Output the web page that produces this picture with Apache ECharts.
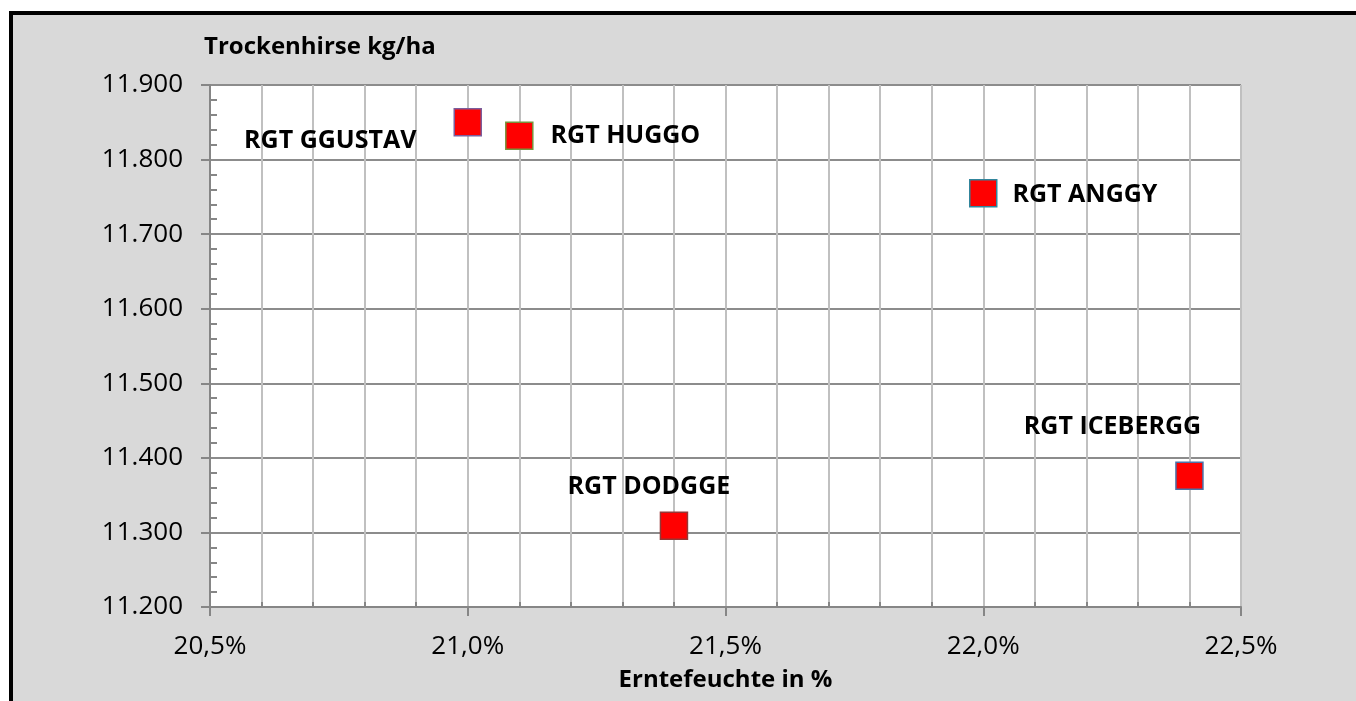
<!DOCTYPE html>
<html>
<head>
<meta charset="utf-8">
<title>Trockenhirse</title>
<script src="https://cdn.jsdelivr.net/npm/echarts@6/dist/echarts.min.js"></script>
<style>
html,body{margin:0;padding:0;background:#d9d9d9;overflow:hidden;}
#chart{width:1356px;height:701px;}
</style>
</head>
<body>
<div id="chart"></div>
<script>
'use strict';

// Sorten, Erntefeuchte (%) und Ertrag (kg/ha)
var varieties=['RGT GGUSTAV','RGT HUGGO','RGT ANGGY','RGT ICEBERGG','RGT DODGGE'];
var moisture=[21.0,21.1,22.0,22.4,21.4];
var yields=[11850,11832,11755,11376,11309];

// Randfarben der Marker und Lage der Beschriftung je Sorte
var borderColors=['#7b5e9c','#77933c','#31859c','#4a72a8','#953735'];
var labelLayout=[
    {position:'left',distance:37,offset:[0,19]},
    {position:'right',distance:17,offset:[0,0]},
    {position:'right',distance:15,offset:[0,2]},
    {position:'top',distance:22,offset:[-77,0]},
    {position:'top',distance:12,offset:[-25,0]}
];

var FONT='"Open Sans", sans-serif';

var series=varieties.map(function(name,i){
    return {
        name:name,
        type:'scatter',
        symbol:'rect',
        symbolSize:27,
        data:[[moisture[i],yields[i]]],
        itemStyle:{color:'#ff0000',opacity:1,borderColor:borderColors[i],borderWidth:1.5},
        label:{
            show:true,
            formatter:name,
            position:labelLayout[i].position,
            distance:labelLayout[i].distance,
            offset:labelLayout[i].offset,
            color:'#000',
            fontFamily:FONT,
            fontWeight:'bold',
            fontSize:25
        },
        emphasis:{disabled:true}
    };
});

var chart=echarts.init(document.getElementById('chart'));
chart.setOption({
    animation:false,
    backgroundColor:'#d9d9d9',
    graphic:[
        // weisser Rand oben/links, dann schwarze Rahmenlinien
        {type:'rect',z:-100,silent:true,shape:{x:0,y:0,width:1356,height:11},style:{fill:'#fff'}},
        {type:'rect',z:-100,silent:true,shape:{x:0,y:0,width:9,height:701},style:{fill:'#fff'}},
        {type:'rect',z:-99,silent:true,shape:{x:9,y:11,width:1347,height:4},style:{fill:'#000'}},
        {type:'rect',z:-99,silent:true,shape:{x:9,y:11,width:4,height:690},style:{fill:'#000'}}
    ],
    grid:{left:210,right:115,top:85,bottom:94,show:true,backgroundColor:'#fff',borderWidth:0},
    xAxis:{
        type:'value',
        min:20.5,max:22.5,interval:0.5,
        name:'Erntefeuchte in %',
        nameLocation:'middle',
        nameGap:73,
        nameTextStyle:{color:'#000',fontFamily:FONT,fontWeight:'bold',fontSize:24,verticalAlign:'middle'},
        axisLine:{lineStyle:{color:'#868686',width:2}},
        axisTick:{show:true,length:9,lineStyle:{color:'#868686',width:2}},
        minorTick:{show:true,splitNumber:5,length:-5,lineStyle:{color:'#868686',width:2}},
        axisLabel:{margin:27,color:'#000',fontFamily:FONT,fontSize:26,
            formatter:function(v){return v.toFixed(1).replace('.',',')+'%';}},
        splitLine:{show:true,lineStyle:{color:'#c0c0c0',width:2}},
        minorSplitLine:{show:true,lineStyle:{color:'#c0c0c0',width:2}}
    },
    yAxis:{
        type:'value',
        min:11200,max:11900,interval:100,
        name:'Trockenhirse kg/ha',
        nameLocation:'end',
        nameGap:38,
        nameTextStyle:{color:'#000',fontFamily:FONT,fontWeight:'bold',fontSize:24,align:'left',verticalAlign:'middle',padding:[0,0,0,-6]},
        axisLine:{show:true,lineStyle:{color:'#868686',width:2}},
        axisTick:{show:true,length:9,lineStyle:{color:'#868686',width:2}},
        minorTick:{show:true,splitNumber:5,length:-7,lineStyle:{color:'#868686',width:2}},
        axisLabel:{margin:27,color:'#000',fontFamily:FONT,fontSize:26,
            formatter:function(v){return (v/1000).toFixed(3);}},
        splitLine:{show:true,lineStyle:{color:'#8c8c8c',width:2}}
    },
    series:series
});
</script>
</body>
</html>
